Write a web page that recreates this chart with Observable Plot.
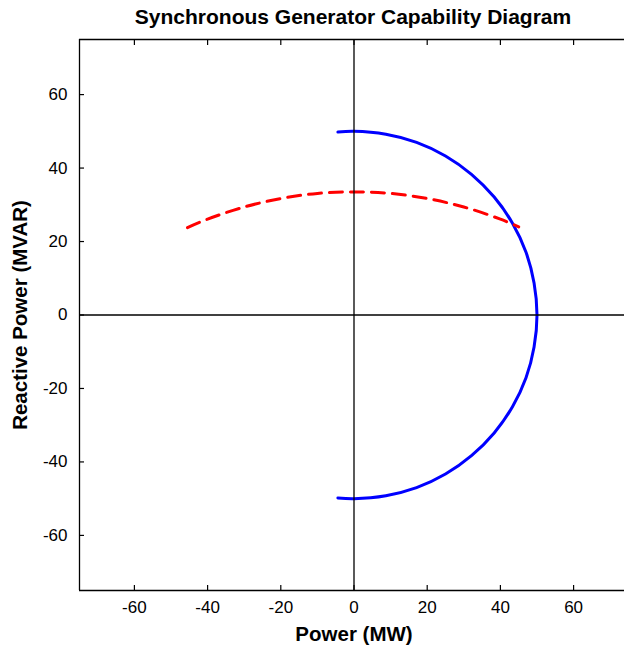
<!DOCTYPE html>
<html>
<head>
<meta charset="utf-8">
<script src="https://cdn.jsdelivr.net/npm/d3@7"></script>
<script src="https://cdn.jsdelivr.net/npm/@observablehq/plot@0.6"></script>
<style>
  html, body { margin: 0; padding: 0; background: #fff; }
  body { width: 624px; height: 648px; overflow: hidden; font-family: "Liberation Sans", Arial, sans-serif; }
  #title { box-sizing: border-box; width: 624px; height: 30px; padding-left: 82px; text-align: center;
           font-weight: bold; font-size: 21px; line-height: 34px; color: #000; white-space: nowrap; }
  #chart svg { display: block; }
</style>
</head>
<body>
<div id="title">Synchronous Generator Capability Diagram</div>
<div id="chart"></div>
<script>
// Tick values
const xTicks = [-60, -40, -20, 0, 20, 40, 60];
const yTicks = [-60, -40, -20, 0, 20, 40, 60];
const xDomain = [-75, 75];
const yDomain = [-75, 75];

// Armature current limit (blue solid)
const armatureP = [-4.4, 0, 8.7, 17.1, 25.0, 32.1, 38.3, 43.3, 47.0, 49.2, 50.0, 49.2, 47.0, 43.3, 38.3, 32.1, 25.0, 17.1, 8.7, 0, -4.4];
const armatureQ = [49.8, 50, 49.2, 47.0, 43.3, 38.3, 32.1, 25.0, 17.1, 8.7, 0, -8.7, -17.1, -25.0, -32.1, -38.3, -43.3, -47.0, -49.2, -50, -49.8];

// Field current limit (red dashed)
const fieldP = [-45.5, -40, -30, -20, -10, 0, 10, 20, 30, 40, 45];
const fieldQ = [23.8, 26.1, 29.4, 31.7, 33.1, 33.5, 33.1, 31.7, 29.4, 26.1, 24.0];

const xLabel = "Power (MW)";
const yLabel = "Reactive Power (MVAR)";

const armature = armatureP.map((p, i) => ({P: p, Q: armatureQ[i]}));
const field = fieldP.map((p, i) => ({P: p, Q: fieldQ[i]}));

const fmt = d => String(d);
const tickStyle = {stroke: "#000", strokeWidth: 1.2};

const chart = Plot.plot({
  width: 624,
  height: 618,
  marginTop: 9,
  marginBottom: 58,
  marginLeft: 79,
  marginRight: -4,
  style: {fontFamily: "'Liberation Sans', Arial, sans-serif", fontSize: "17px", color: "#000", background: "#fff"},
  x: {domain: xDomain, label: null},
  y: {domain: yDomain, label: null},
  marks: [
    // axes box (left, top, bottom; right side lies beyond the picture)
    Plot.ruleY([yDomain[0], yDomain[1]], {stroke: "#000", strokeWidth: 1.3}),
    Plot.ruleX([xDomain[0]], {stroke: "#000", strokeWidth: 1.3}),
    // inward tick marks on all four sides
    Plot.axisX({anchor: "bottom", ticks: xTicks, tickSize: 5, dy: -5, tickFormat: () => "", label: null, ...tickStyle}),
    Plot.axisX({anchor: "top", ticks: xTicks, tickSize: 5, dy: 5, tickFormat: () => "", label: null, ...tickStyle}),
    Plot.axisY({anchor: "left", ticks: yTicks, tickSize: 5, dx: 5, tickFormat: () => "", label: null, ...tickStyle}),
    Plot.axisY({anchor: "right", ticks: yTicks, tickSize: 5, dx: -5, tickFormat: () => "", label: null, ...tickStyle}),
    // tick labels
    Plot.axisX({anchor: "bottom", ticks: xTicks, tickSize: 0, tickPadding: 10, tickFormat: fmt, label: null, fontSize: 17}),
    Plot.axisY({anchor: "left", ticks: yTicks, tickSize: 0, tickPadding: 12, tickFormat: fmt, label: null, fontSize: 17}),
    // curves
    Plot.line(armature, {x: "P", y: "Q", stroke: "#0000ff", strokeWidth: 3, curve: "catmull-rom"}),
    Plot.line(field, {x: "P", y: "Q", stroke: "#ff0000", strokeWidth: 3, strokeDasharray: "13,8", curve: "catmull-rom"}),
    // zero lines
    Plot.ruleX([0], {stroke: "#000", strokeWidth: 1.3}),
    Plot.ruleY([0], {stroke: "#000", strokeWidth: 1.3}),
    // axis titles
    Plot.text([xLabel], {text: d => d, frameAnchor: "bottom", dy: 44, textAnchor: "middle", lineAnchor: "middle", fontWeight: "bold", fontSize: 20.5, fill: "#000"}),
    Plot.text([yLabel], {text: d => d, frameAnchor: "left", dx: -59, rotate: -90, textAnchor: "middle", lineAnchor: "middle", fontWeight: "bold", fontSize: 20.5, fill: "#000"})
  ]
});
document.getElementById("chart").appendChild(chart);
</script>
</body>
</html>
